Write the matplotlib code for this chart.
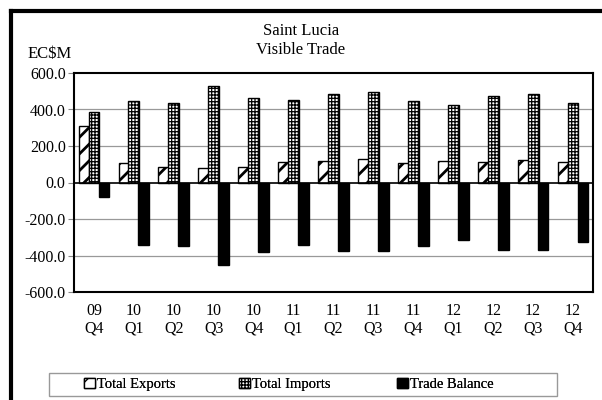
import matplotlib.pyplot as plt
from matplotlib.lines import Line2D
from matplotlib.patches import Rectangle
import numpy as np

plt.rcParams['font.family'] = ['Liberation Serif', 'DejaVu Serif']

quarters = ['09\nQ4', '10\nQ1', '10\nQ2', '10\nQ3', '10\nQ4', '11\nQ1', '11\nQ2',
            '11\nQ3', '11\nQ4', '12\nQ1', '12\nQ2', '12\nQ3', '12\nQ4']
exports = [308, 108, 86, 79, 83, 112, 117, 127, 106, 117, 110, 123, 110]
imports = [389, 449, 433, 528, 462, 451, 486, 497, 449, 424, 473, 486, 433]
balance = [-81, -341, -348, -452, -381, -341, -374, -378, -348, -313, -370, -370, -326]

fig = plt.figure(figsize=(6.02, 4), dpi=100)
ax = fig.add_axes([74/602, 108/400, (593-74)/602, (292-73)/400])

x = np.arange(len(quarters))
w = 0.27

with plt.rc_context({'hatch.linewidth': 2.0}):
    b1 = ax.bar(x - 0.25, exports, w, color='white', edgecolor='black', hatch='//',
                linewidth=1, label='Total Exports', zorder=3)
with plt.rc_context({'hatch.linewidth': 0.9}):
    b2 = ax.bar(x, imports, w, color='white', edgecolor='black', hatch='+++++',
                linewidth=1, label='Total Imports', zorder=3)
b3 = ax.bar(x + 0.25, balance, w, color='black', edgecolor='black',
            linewidth=1, label='Trade Balance', zorder=3)

ax.set_xlim(-0.5, len(quarters) - 0.5)
ax.set_ylim(-600, 600)
ax.set_yticks(np.arange(-600, 601, 200))
ax.set_yticklabels(['%.1f' % v for v in np.arange(-600, 601, 200)], fontsize=11.5)
ax.set_xticks(x)
ax.set_xticklabels(quarters, fontsize=11.5, linespacing=1.15)
ax.tick_params(axis='x', length=0, pad=8)
ax.tick_params(axis='y', length=4, color='#888888', direction='out', pad=2)

for v in [-400, -200, 200, 400]:
    ax.axhline(v, color='#999999', linewidth=0.9, zorder=1)
ax.axhline(0, color='black', linewidth=1.2, zorder=4)
for s in ax.spines.values():
    s.set_linewidth(1.5)
    s.set_color('black')

fig.text(0.5, 1 - 31/400, 'Saint Lucia', ha='center', va='center', fontsize=12)
fig.text(0.5, 1 - 50/400, 'Visible Trade', ha='center', va='center', fontsize=12)
fig.text(28/602, 1 - 54/400, 'EC$M', ha='left', va='center', fontsize=12)

# legend box
fig.add_artist(Rectangle((49/602, 4/400), (557-49)/602, 23/400, transform=fig.transFigure,
                         facecolor='white', edgecolor='#999999', linewidth=1))
for bars, xpos in [(b1, 84), (b2, 239), (b3, 397)]:
    lg = fig.legend([bars], [bars.get_label()], loc='center left',
                    bbox_to_anchor=(xpos/602, 15.5/400), fontsize=10.5, frameon=False,
                    handlelength=0.75, handleheight=0.75, handletextpad=0.15,
                    borderpad=0, borderaxespad=0)
    fig.add_artist(lg)

fig.add_artist(Line2D([11/602, 1], [1 - 11/400, 1 - 11/400], color='black', linewidth=3,
                      transform=fig.transFigure))
fig.add_artist(Line2D([11/602, 11/602], [0, 1 - 11/400], color='black', linewidth=3,
                      transform=fig.transFigure))

fig.savefig('out.png', dpi=100)
